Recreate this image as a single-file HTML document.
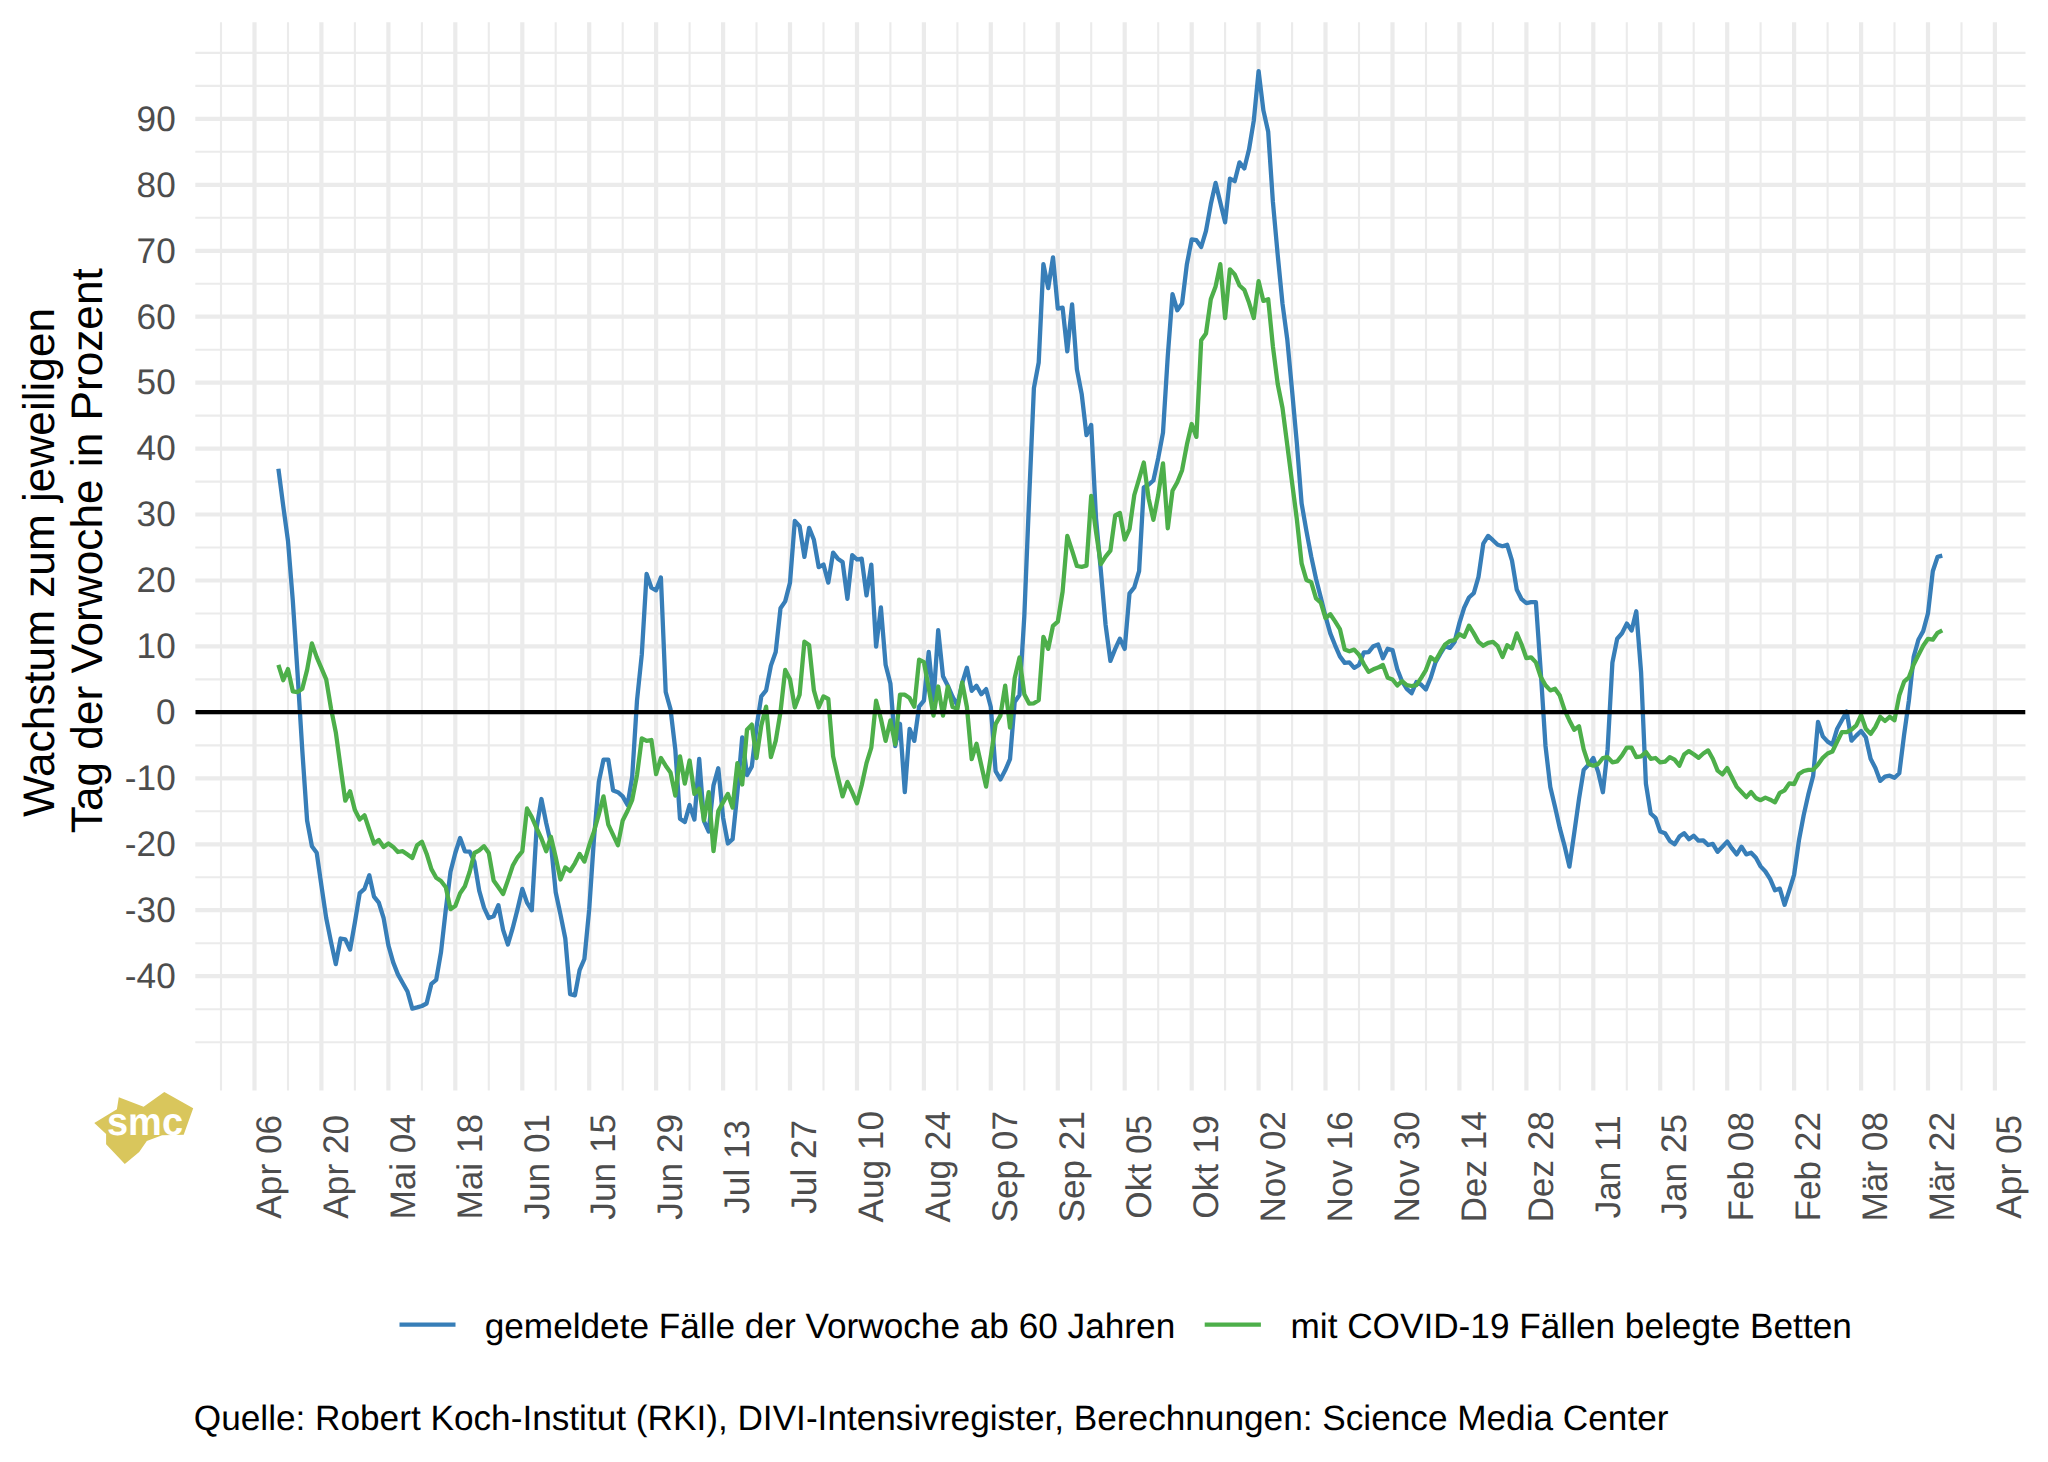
<!DOCTYPE html>
<html lang="de"><head><meta charset="utf-8"><title>Wachstum zum jeweiligen Tag der Vorwoche in Prozent</title>
<style>html,body{margin:0;padding:0;background:#fff}svg{display:block}text{font-family:"Liberation Sans",Arial,Helvetica,sans-serif;text-rendering:geometricPrecision}</style>
</head><body>
<svg width="2048" height="1462" viewBox="0 0 2048 1462">
<rect width="2048" height="1462" fill="#fff"/>
<defs><clipPath id="panel"><rect x="195.3" y="22.3" width="1830.2" height="1068.2"/></clipPath></defs>
<g fill="none">
<g stroke="#EBEBEB" stroke-width="2.1">
<line x1="195.3" x2="2025.5" y1="1042.2" y2="1042.2"/>
<line x1="195.3" x2="2025.5" y1="1009.2" y2="1009.2"/>
<line x1="195.3" x2="2025.5" y1="943.2" y2="943.2"/>
<line x1="195.3" x2="2025.5" y1="877.3" y2="877.3"/>
<line x1="195.3" x2="2025.5" y1="811.3" y2="811.3"/>
<line x1="195.3" x2="2025.5" y1="745.4" y2="745.4"/>
<line x1="195.3" x2="2025.5" y1="679.4" y2="679.4"/>
<line x1="195.3" x2="2025.5" y1="613.5" y2="613.5"/>
<line x1="195.3" x2="2025.5" y1="547.5" y2="547.5"/>
<line x1="195.3" x2="2025.5" y1="481.6" y2="481.6"/>
<line x1="195.3" x2="2025.5" y1="415.6" y2="415.6"/>
<line x1="195.3" x2="2025.5" y1="349.7" y2="349.7"/>
<line x1="195.3" x2="2025.5" y1="283.7" y2="283.7"/>
<line x1="195.3" x2="2025.5" y1="217.8" y2="217.8"/>
<line x1="195.3" x2="2025.5" y1="151.8" y2="151.8"/>
<line x1="195.3" x2="2025.5" y1="85.9" y2="85.9"/>
<line x1="195.3" x2="2025.5" y1="52.9" y2="52.9"/>
<line x1="221" x2="221" y1="22.3" y2="1090.5"/>
<line x1="288" x2="288" y1="22.3" y2="1090.5"/>
<line x1="354.9" x2="354.9" y1="22.3" y2="1090.5"/>
<line x1="421.9" x2="421.9" y1="22.3" y2="1090.5"/>
<line x1="488.8" x2="488.8" y1="22.3" y2="1090.5"/>
<line x1="555.7" x2="555.7" y1="22.3" y2="1090.5"/>
<line x1="622.7" x2="622.7" y1="22.3" y2="1090.5"/>
<line x1="689.6" x2="689.6" y1="22.3" y2="1090.5"/>
<line x1="756.5" x2="756.5" y1="22.3" y2="1090.5"/>
<line x1="823.5" x2="823.5" y1="22.3" y2="1090.5"/>
<line x1="890.4" x2="890.4" y1="22.3" y2="1090.5"/>
<line x1="957.4" x2="957.4" y1="22.3" y2="1090.5"/>
<line x1="1024.3" x2="1024.3" y1="22.3" y2="1090.5"/>
<line x1="1091.2" x2="1091.2" y1="22.3" y2="1090.5"/>
<line x1="1158.2" x2="1158.2" y1="22.3" y2="1090.5"/>
<line x1="1225.1" x2="1225.1" y1="22.3" y2="1090.5"/>
<line x1="1292.1" x2="1292.1" y1="22.3" y2="1090.5"/>
<line x1="1359" x2="1359" y1="22.3" y2="1090.5"/>
<line x1="1426" x2="1426" y1="22.3" y2="1090.5"/>
<line x1="1492.9" x2="1492.9" y1="22.3" y2="1090.5"/>
<line x1="1559.8" x2="1559.8" y1="22.3" y2="1090.5"/>
<line x1="1626.8" x2="1626.8" y1="22.3" y2="1090.5"/>
<line x1="1693.7" x2="1693.7" y1="22.3" y2="1090.5"/>
<line x1="1760.6" x2="1760.6" y1="22.3" y2="1090.5"/>
<line x1="1827.6" x2="1827.6" y1="22.3" y2="1090.5"/>
<line x1="1894.5" x2="1894.5" y1="22.3" y2="1090.5"/>
<line x1="1961.5" x2="1961.5" y1="22.3" y2="1090.5"/>
</g>
<g stroke="#EBEBEB" stroke-width="4.2">
<line x1="195.3" x2="2025.5" y1="976.2" y2="976.2"/>
<line x1="195.3" x2="2025.5" y1="910.2" y2="910.2"/>
<line x1="195.3" x2="2025.5" y1="844.3" y2="844.3"/>
<line x1="195.3" x2="2025.5" y1="778.4" y2="778.4"/>
<line x1="195.3" x2="2025.5" y1="712.4" y2="712.4"/>
<line x1="195.3" x2="2025.5" y1="646.4" y2="646.4"/>
<line x1="195.3" x2="2025.5" y1="580.5" y2="580.5"/>
<line x1="195.3" x2="2025.5" y1="514.5" y2="514.5"/>
<line x1="195.3" x2="2025.5" y1="448.6" y2="448.6"/>
<line x1="195.3" x2="2025.5" y1="382.6" y2="382.6"/>
<line x1="195.3" x2="2025.5" y1="316.7" y2="316.7"/>
<line x1="195.3" x2="2025.5" y1="250.8" y2="250.8"/>
<line x1="195.3" x2="2025.5" y1="184.8" y2="184.8"/>
<line x1="195.3" x2="2025.5" y1="118.9" y2="118.9"/>
<line x1="254.5" x2="254.5" y1="22.3" y2="1090.5"/>
<line x1="321.4" x2="321.4" y1="22.3" y2="1090.5"/>
<line x1="388.4" x2="388.4" y1="22.3" y2="1090.5"/>
<line x1="455.3" x2="455.3" y1="22.3" y2="1090.5"/>
<line x1="522.3" x2="522.3" y1="22.3" y2="1090.5"/>
<line x1="589.2" x2="589.2" y1="22.3" y2="1090.5"/>
<line x1="656.1" x2="656.1" y1="22.3" y2="1090.5"/>
<line x1="723.1" x2="723.1" y1="22.3" y2="1090.5"/>
<line x1="790" x2="790" y1="22.3" y2="1090.5"/>
<line x1="857" x2="857" y1="22.3" y2="1090.5"/>
<line x1="923.9" x2="923.9" y1="22.3" y2="1090.5"/>
<line x1="990.8" x2="990.8" y1="22.3" y2="1090.5"/>
<line x1="1057.8" x2="1057.8" y1="22.3" y2="1090.5"/>
<line x1="1124.7" x2="1124.7" y1="22.3" y2="1090.5"/>
<line x1="1191.7" x2="1191.7" y1="22.3" y2="1090.5"/>
<line x1="1258.6" x2="1258.6" y1="22.3" y2="1090.5"/>
<line x1="1325.5" x2="1325.5" y1="22.3" y2="1090.5"/>
<line x1="1392.5" x2="1392.5" y1="22.3" y2="1090.5"/>
<line x1="1459.4" x2="1459.4" y1="22.3" y2="1090.5"/>
<line x1="1526.4" x2="1526.4" y1="22.3" y2="1090.5"/>
<line x1="1593.3" x2="1593.3" y1="22.3" y2="1090.5"/>
<line x1="1660.2" x2="1660.2" y1="22.3" y2="1090.5"/>
<line x1="1727.2" x2="1727.2" y1="22.3" y2="1090.5"/>
<line x1="1794.1" x2="1794.1" y1="22.3" y2="1090.5"/>
<line x1="1861.1" x2="1861.1" y1="22.3" y2="1090.5"/>
<line x1="1928" x2="1928" y1="22.3" y2="1090.5"/>
<line x1="1994.9" x2="1994.9" y1="22.3" y2="1090.5"/>
</g>
</g>
<g clip-path="url(#panel)" fill="none">
<polyline points="278.4,468.7 283.2,505.8 288,540.9 292.8,600.7 297.5,672.5 302.3,750.5 307.1,820.5 311.9,846.2 316.7,852.7 321.4,885.5 326.2,918 331,941.9 335.8,964.1 340.6,938.5 345.3,939.4 350.1,949.6 354.9,922.3 359.7,893.2 364.5,888.9 369.3,875.2 374,896.6 378.8,902.6 383.6,918 388.4,945.3 393.2,962.4 397.9,974.4 402.7,983 407.5,991.5 412.3,1008.6 417.1,1007.4 421.9,1006 426.6,1003.5 431.4,983.8 436.2,979.9 441,952.2 445.8,909.4 450.5,871.8 455.3,853 460.1,838 464.9,851.3 469.7,851.6 474.4,861.6 479.2,890.6 484,907.7 488.8,918 493.6,916.3 498.4,905.2 503.1,929.9 507.9,944.5 512.7,928.2 517.5,909.4 522.3,888.9 527,902.6 531.8,910.3 536.6,828 541.4,799 546.2,823 550.9,843.5 555.7,892.3 560.5,914.6 565.3,938.5 570.1,994.1 574.9,995.3 579.6,970.1 584.4,959 589.2,909.4 594,838.3 598.8,781.9 603.5,759.7 608.3,759.7 613.1,790.5 617.9,792.2 622.7,796.4 627.5,805 632.2,776.8 637,700.6 641.8,654.4 646.6,574 651.4,587.7 656.1,590.3 660.9,577.5 665.7,692 670.5,709.1 675.3,749.4 680,818.7 684.8,822.1 689.6,805 694.4,819.5 699.2,758.8 704,821.2 708.7,831.5 713.5,785.3 718.3,768.2 723.1,817.8 727.9,843.5 732.6,839.2 737.4,792.2 742.2,737.5 747,775.1 751.8,766.5 756.5,727.2 761.3,696.4 766.1,690.4 770.9,665.6 775.7,652 780.5,608.2 785.2,601.4 790,582.6 794.8,521 799.6,526.2 804.4,556.9 809.1,527.9 813.9,539.8 818.7,567.2 823.5,564.6 828.3,582.6 833.1,552.7 837.8,558.7 842.6,562.1 847.4,598.8 852.2,555.2 857,559.5 861.7,558.7 866.5,595.4 871.3,564.6 876.1,646.7 880.9,607.4 885.6,664.7 890.4,683.5 895.2,746 900,723.8 904.8,792.2 909.6,728.9 914.3,740.9 919.1,706.7 923.9,700.7 928.7,652 933.5,699.8 938.2,630.1 943,676.3 947.8,685.7 952.6,696.8 957.4,705.3 962.2,683.1 966.9,667.7 971.7,690.8 976.5,685.7 981.3,694.2 986.1,689.1 990.8,707 995.6,771.2 1000.4,779.4 1005.2,770.3 1010,759.2 1014.7,701.9 1019.5,695.1 1024.3,616.4 1029.1,499.3 1033.9,388.1 1038.7,362.5 1043.4,264.1 1048.2,288.1 1053,257.3 1057.8,308.6 1062.6,307.7 1067.3,351.4 1072.1,304.3 1076.9,369.3 1081.7,394.1 1086.5,435.2 1091.2,424.9 1096,518.1 1100.8,570.3 1105.6,625 1110.4,660.9 1115.2,648.9 1119.9,638.7 1124.7,648.9 1129.5,593.3 1134.3,587.4 1139.1,571.1 1143.8,487.3 1148.6,484.7 1153.4,480.5 1158.2,458.2 1163,432.6 1167.8,355.6 1172.5,294.1 1177.3,310.3 1182.1,303.5 1186.9,264.1 1191.7,239.4 1196.4,240.2 1201.2,247 1206,230.8 1210.8,204.3 1215.6,182.9 1220.3,202.6 1225.1,222.3 1229.9,178.7 1234.7,181.2 1239.5,162.4 1244.3,168.4 1249,149.6 1253.8,120.5 1258.6,71.1 1263.4,110.4 1268.2,131.8 1272.9,201.9 1277.7,254.9 1282.5,303.7 1287.3,339.6 1292.1,390.9 1296.9,443.9 1301.6,503.4 1306.4,530.8 1311.2,556.4 1316,578.7 1320.8,597.5 1325.5,616.3 1330.3,633.4 1335.1,645.3 1339.9,656.4 1344.7,662.9 1349.4,662.4 1354.2,667.9 1359,665 1363.8,652.5 1368.6,652.2 1373.4,646.2 1378.1,644.5 1382.9,658.2 1387.7,648.8 1392.5,650.1 1397.3,669.3 1402,681.2 1406.8,688.9 1411.6,693.2 1416.4,682.1 1421.2,684.7 1425.9,689.4 1430.7,677.8 1435.5,662.4 1440.3,653.9 1445.1,646.2 1449.9,647.9 1454.6,641.9 1459.4,623.1 1464.2,607.7 1469,597.5 1473.8,593.2 1478.5,576.9 1483.3,543.6 1488.1,535.9 1492.9,540.2 1497.7,544.8 1502.5,546.2 1507.2,544.8 1512,560.7 1516.8,589.8 1521.6,599.2 1526.4,603.1 1531.1,602.2 1535.9,602.2 1540.7,670.8 1545.5,746 1550.3,787 1555,806.7 1559.8,828.1 1564.6,846 1569.4,866.6 1574.2,833.2 1579,799 1583.7,769.9 1588.5,764.8 1593.3,758 1598.1,771.7 1602.9,792.2 1607.6,749.4 1612.4,662.7 1617.2,638.7 1622,633.3 1626.8,623.6 1631.6,630.4 1636.3,611.3 1641.1,672.5 1645.9,783.6 1650.7,813.5 1655.5,817.8 1660.2,831.5 1665,833.2 1669.8,840.9 1674.6,844.3 1679.4,836.6 1684.1,833.2 1688.9,839.2 1693.7,835.8 1698.5,840.7 1703.3,840.4 1708.1,845 1712.8,843.8 1717.6,851.8 1722.4,846.7 1727.2,841.6 1732,848.4 1736.7,854.4 1741.5,846.7 1746.3,854.4 1751.1,852.7 1755.9,857.8 1760.6,866.4 1765.4,871.5 1770.2,879.2 1775,890.3 1779.8,888.6 1784.6,904.8 1789.3,890.3 1794.1,874.9 1798.9,840.7 1803.7,815.1 1808.5,793.7 1813.2,775.7 1818,721.9 1822.8,736.4 1827.6,741.6 1832.4,744.6 1837.2,728.7 1841.9,720.2 1846.7,711.6 1851.5,740.7 1856.3,735.6 1861.1,731 1865.8,737.3 1870.6,758.7 1875.4,768.1 1880.2,780.9 1885,776.6 1889.7,775.7 1894.5,777.8 1899.3,773.2 1904.1,734.7 1908.9,700.5 1913.7,656.8 1918.4,639.7 1923.2,631.1 1928,613.2 1932.8,571.3 1937.6,556.8 1942.3,555.6" stroke="#377EB8" stroke-width="4.3" stroke-linejoin="round" stroke-linecap="butt"/>
<polyline points="278.4,664.8 283.2,680.2 288,669.1 292.8,691.3 297.5,692.1 302.3,688.7 307.1,669.9 311.9,643.4 316.7,657.1 321.4,668.2 326.2,679.3 331,708.4 335.8,732.3 340.6,767.4 345.3,800.7 350.1,791.3 354.9,810.1 359.7,819.5 364.5,815.3 369.3,829.8 374,843.5 378.8,840 383.6,846.9 388.4,843.5 393.2,846.9 397.9,852 402.7,851.2 407.5,854.6 412.3,858 417.1,845.2 421.9,841.8 426.6,853.7 431.4,869.1 436.2,877.7 441,881 445.8,887.2 450.5,909.1 455.3,906 460.1,893.2 464.9,886.3 469.7,871.8 474.4,853 479.2,850.4 484,846.2 488.8,853 493.6,880.4 498.4,887.2 503.1,894 507.9,880.4 512.7,865.8 517.5,857.3 522.3,851.3 527,808.5 531.8,817.1 536.6,828.2 541.4,838.5 546.2,851.3 550.9,836.8 555.7,857.3 560.5,879.5 565.3,867.5 570.1,871 574.9,863.3 579.6,853.9 584.4,861.6 589.2,845.3 594,831.5 598.8,814.4 603.5,796.4 608.3,824.7 613.1,834.9 617.9,845.2 622.7,820.4 627.5,811 632.2,799.9 637,775.1 641.8,738.3 646.6,740.9 651.4,740 656.1,774.2 660.9,758 665.7,765.7 670.5,772.5 675.3,795.6 680,756.3 684.8,783.6 689.6,760.5 694.4,793.9 699.2,788.8 704,820.4 708.7,792.2 713.5,851.2 718.3,811 723.1,802.4 727.9,793.9 732.6,807.6 737.4,763.1 742.2,784.5 747,729.8 751.8,724.6 756.5,758 761.3,725.5 766.1,706.7 770.9,757.1 775.7,740.9 780.5,711.8 785.2,669.9 790,679.3 794.8,707.5 799.6,694.7 804.4,641.7 809.1,645.1 813.9,690.4 818.7,707.5 823.5,696.4 828.3,699 833.1,756.3 837.8,776.8 842.6,796.4 847.4,781.9 852.2,792.2 857,803.3 861.7,785.3 866.5,763.1 871.3,747.7 876.1,700.7 880.9,718.7 885.6,740.9 890.4,720.4 895.2,744.3 900,694.7 904.8,694.7 909.6,698.1 914.3,706.7 919.1,659.7 923.9,662.2 928.7,687.9 933.5,715.6 938.2,686.5 943,715.6 947.8,686.5 952.6,707 957.4,708.8 962.2,682.3 966.9,707 971.7,759.2 976.5,743.8 981.3,765.2 986.1,786.6 990.8,756.6 995.6,724.1 1000.4,715.6 1005.2,685.7 1010,727.6 1014.7,678 1019.5,657.5 1024.3,694.2 1029.1,703.6 1033.9,703.3 1038.7,700.2 1043.4,636.9 1048.2,648.9 1053,625.8 1057.8,621.6 1062.6,591.6 1067.3,536 1072.1,550.6 1076.9,566 1081.7,566.8 1086.5,565.6 1091.2,495.9 1096,531.8 1100.8,564.2 1105.6,556.6 1110.4,550.6 1115.2,515.5 1119.9,513 1124.7,539.5 1129.5,529.2 1134.3,495 1139.1,478.8 1143.8,462.5 1148.6,498.4 1153.4,519.8 1158.2,495 1163,463.4 1167.8,528.3 1172.5,490.7 1177.3,482.2 1182.1,470.2 1186.9,444.6 1191.7,424 1196.4,436.9 1201.2,340.3 1206,333.4 1210.8,299.2 1215.6,286.4 1220.3,264.1 1225.1,318 1229.9,269.3 1234.7,274.4 1239.5,285.5 1244.3,289.8 1249,302.6 1253.8,318 1258.6,281.2 1263.4,300.9 1268.2,299.2 1272.9,346.4 1277.7,384 1282.5,408 1287.3,445.3 1292.1,482.7 1296.9,519.7 1301.6,563.3 1306.4,580 1311.2,582.1 1316,598.3 1320.8,602.6 1325.5,618 1330.3,614.2 1335.1,621.4 1339.9,629.1 1344.7,649.6 1349.4,651.3 1354.2,649.6 1359,654.7 1363.8,664.1 1368.6,671.8 1373.4,669.3 1378.1,667.6 1382.9,665 1387.7,677.8 1392.5,679.5 1397.3,685.5 1402,681.2 1406.8,685.2 1411.6,686 1416.4,685.2 1421.2,677.8 1425.9,670.1 1430.7,657.3 1435.5,660.7 1440.3,652.2 1445.1,644.5 1449.9,641.1 1454.6,640.2 1459.4,634.2 1464.2,636.8 1469,625.7 1473.8,633.4 1478.5,641.9 1483.3,645.7 1488.1,642.8 1492.9,641.9 1497.7,646.2 1502.5,657 1507.2,645.3 1512,648.4 1516.8,633.4 1521.6,644.5 1526.4,658.2 1531.1,657.3 1535.9,662.4 1540.7,676.8 1545.5,685.3 1550.3,690.4 1555,688.7 1559.8,695.6 1564.6,710.1 1569.4,720.4 1574.2,729.8 1579,726.3 1583.7,749.4 1588.5,764 1593.3,765.7 1598.1,764 1602.9,758 1607.6,757.1 1612.4,762.3 1617.2,761.4 1622,755.4 1626.8,747.7 1631.6,747.7 1636.3,757.1 1641.1,756.3 1645.9,752 1650.7,758.8 1655.5,758 1660.2,762.3 1665,761.7 1669.8,757.1 1674.6,759.7 1679.4,765.7 1684.1,754.6 1688.9,751.1 1693.7,754.2 1698.5,757.8 1703.3,753.5 1708.1,750.4 1712.8,758.7 1717.6,770.6 1722.4,774.4 1727.2,768.1 1732,777.5 1736.7,786.9 1741.5,792 1746.3,797.1 1751.1,792 1755.9,798 1760.6,800.2 1765.4,797.6 1770.2,799.7 1775,802.3 1779.8,792.8 1784.6,790.3 1789.3,783.4 1794.1,784 1798.9,774 1803.7,771 1808.5,769.8 1813.2,769.8 1818,764.6 1822.8,757.8 1827.6,753.5 1832.4,751.5 1837.2,741.6 1841.9,732.1 1846.7,732.1 1851.5,729.6 1856.3,725.3 1861.1,715.1 1865.8,728.7 1870.6,733.9 1875.4,727 1880.2,716.8 1885,721 1889.7,716.8 1894.5,720.2 1899.3,695.4 1904.1,681.7 1908.9,677.3 1913.7,664.5 1918.4,655.1 1923.2,645.7 1928,638.8 1932.8,639.7 1937.6,632.8 1942.3,630.3" stroke="#4DAF4A" stroke-width="4.3" stroke-linejoin="round" stroke-linecap="butt"/>
<line x1="195.3" x2="2025.5" y1="712.2" y2="712.2" stroke="#000" stroke-width="4.3"/>
</g>
<g font-size="35.2" fill="#4D4D4D" text-anchor="end">
<text transform="translate(175.7,988) scale(1,1.01)">-40</text>
<text transform="translate(175.7,922) scale(1,1.01)">-30</text>
<text transform="translate(175.7,856.1) scale(1,1.01)">-20</text>
<text transform="translate(175.7,790.1) scale(1,1.01)">-10</text>
<text transform="translate(175.7,724.2) scale(1,1.01)">0</text>
<text transform="translate(175.7,658.2) scale(1,1.01)">10</text>
<text transform="translate(175.7,592.3) scale(1,1.01)">20</text>
<text transform="translate(175.7,526.3) scale(1,1.01)">30</text>
<text transform="translate(175.7,460.4) scale(1,1.01)">40</text>
<text transform="translate(175.7,394.4) scale(1,1.01)">50</text>
<text transform="translate(175.7,328.5) scale(1,1.01)">60</text>
<text transform="translate(175.7,262.6) scale(1,1.01)">70</text>
<text transform="translate(175.7,196.6) scale(1,1.01)">80</text>
<text transform="translate(175.7,130.7) scale(1,1.01)">90</text>
</g>
<g font-size="35.2" fill="#4D4D4D" text-anchor="middle">
<text transform="translate(280.7,1166.8) rotate(-90) scale(1,1.01)">Apr 06</text>
<text transform="translate(347.6,1166.8) rotate(-90) scale(1,1.01)">Apr 20</text>
<text transform="translate(414.6,1166.8) rotate(-90) scale(1,1.01)">Mai 04</text>
<text transform="translate(481.5,1166.8) rotate(-90) scale(1,1.01)">Mai 18</text>
<text transform="translate(548.5,1166.8) rotate(-90) scale(1,1.01)">Jun 01</text>
<text transform="translate(615.4,1166.8) rotate(-90) scale(1,1.01)">Jun 15</text>
<text transform="translate(682.3,1166.8) rotate(-90) scale(1,1.01)">Jun 29</text>
<text transform="translate(749.3,1166.8) rotate(-90) scale(1,1.01)">Jul 13</text>
<text transform="translate(816.2,1166.8) rotate(-90) scale(1,1.01)">Jul 27</text>
<text transform="translate(883.2,1166.8) rotate(-90) scale(1,1.01)">Aug 10</text>
<text transform="translate(950.1,1166.8) rotate(-90) scale(1,1.01)">Aug 24</text>
<text transform="translate(1017,1166.8) rotate(-90) scale(1,1.01)">Sep 07</text>
<text transform="translate(1084,1166.8) rotate(-90) scale(1,1.01)">Sep 21</text>
<text transform="translate(1150.9,1166.8) rotate(-90) scale(1,1.01)">Okt 05</text>
<text transform="translate(1217.9,1166.8) rotate(-90) scale(1,1.01)">Okt 19</text>
<text transform="translate(1284.8,1166.8) rotate(-90) scale(1,1.01)">Nov 02</text>
<text transform="translate(1351.7,1166.8) rotate(-90) scale(1,1.01)">Nov 16</text>
<text transform="translate(1418.7,1166.8) rotate(-90) scale(1,1.01)">Nov 30</text>
<text transform="translate(1485.6,1166.8) rotate(-90) scale(1,1.01)">Dez 14</text>
<text transform="translate(1552.6,1166.8) rotate(-90) scale(1,1.01)">Dez 28</text>
<text transform="translate(1619.5,1166.8) rotate(-90) scale(1,1.01)">Jan 11</text>
<text transform="translate(1686.4,1166.8) rotate(-90) scale(1,1.01)">Jan 25</text>
<text transform="translate(1753.4,1166.8) rotate(-90) scale(1,1.01)">Feb 08</text>
<text transform="translate(1820.3,1166.8) rotate(-90) scale(1,1.01)">Feb 22</text>
<text transform="translate(1887.3,1166.8) rotate(-90) scale(1,1.01)">Mär 08</text>
<text transform="translate(1954.2,1166.8) rotate(-90) scale(1,1.01)">Mär 22</text>
<text transform="translate(2021.1,1166.8) rotate(-90) scale(1,1.01)">Apr 05</text>
</g>
<g font-size="44.2" fill="#000" text-anchor="middle">
<text transform="translate(54.0,562.5) rotate(-90) scale(1,1.0)">Wachstum zum jeweiligen</text>
<text transform="translate(102.2,550.7) rotate(-90) scale(1,1.0)">Tag der Vorwoche in Prozent</text>
</g>
<g fill="none" stroke-width="4.3">
<line x1="399.5" x2="455.5" y1="1324.7" y2="1324.7" stroke="#377EB8"/>
<line x1="1204.7" x2="1260.9" y1="1324.7" y2="1324.7" stroke="#4DAF4A"/>
</g>
<g font-size="35.2" fill="#000">
<text transform="translate(484.7,1337.7) scale(1,1.0)">gemeldete Fälle der Vorwoche ab 60 Jahren</text>
<text transform="translate(1290.5,1337.7) scale(1,1.0)">mit COVID-19 Fällen belegte Betten</text>
<text transform="translate(193.8,1430) scale(1,1.0)">Quelle: Robert Koch-Institut (RKI), DIVI-Intensivregister, Berechnungen: Science Media Center</text>
</g>
<g>
<polygon fill="#D9C65C" points="94.3,1122.9 116.9,1109.3 118.8,1097.2 143.6,1106.7 164.3,1092.1 193.2,1108.3 183.7,1134.7 162.1,1135.3 146.8,1141.1 139.2,1151.9 124.8,1164 106.1,1144.2 106.1,1134.1"/>
<text x="107" y="1135" font-size="39" font-weight="bold" fill="#fff" textLength="76" lengthAdjust="spacingAndGlyphs">smc</text>
</g>
</svg></body></html>
